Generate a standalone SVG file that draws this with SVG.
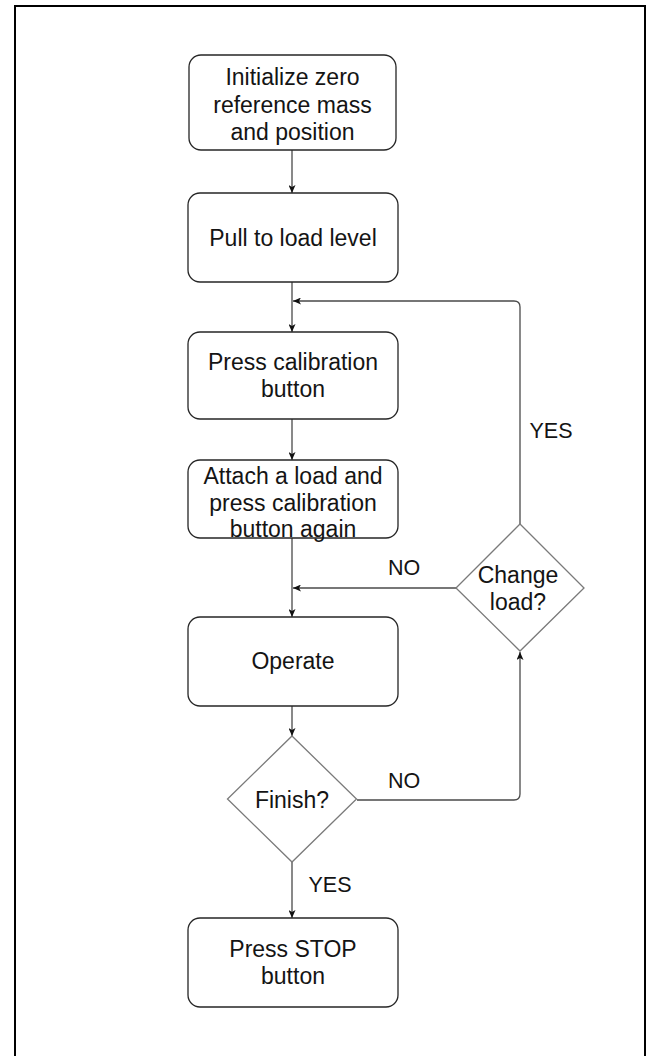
<svg xmlns="http://www.w3.org/2000/svg" width="650" height="1056" viewBox="0 0 650 1056">
<style>
.box{fill:#fff;stroke:#262626;stroke-width:1.3}
.dia{fill:#fff;stroke:#7a7a7a;stroke-width:1.3}
.t{font-family:"Liberation Sans",Arial,sans-serif;font-size:23px;fill:#141414;text-anchor:middle}
.l{font-family:"Liberation Sans",Arial,sans-serif;font-size:21.5px;fill:#141414;text-anchor:middle}
.c{fill:none;stroke:#4a4a4a;stroke-width:1.3}
</style>
<defs>
<marker id="arr" viewBox="0 0 8 7" refX="8" refY="3.5" markerWidth="8" markerHeight="7" markerUnits="userSpaceOnUse" orient="auto">
<path d="M0,0 L8,3.5 L0,7 L2,3.5 z" fill="#111"/>
</marker>
</defs>
<rect x="15" y="6" width="630" height="1060" fill="#fff" stroke="#000" stroke-width="2"/>
<g id="connectors">
<path class="c" d="M292,150 V193" marker-end="url(#arr)"/>
<path class="c" d="M292,282 V332" marker-end="url(#arr)"/>
<path class="c" d="M520,524 V307 Q520,301 514,301 H293" marker-end="url(#arr)"/>
<path class="c" d="M292,419 V460" marker-end="url(#arr)"/>
<path class="c" d="M292,538 V617" marker-end="url(#arr)"/>
<path class="c" d="M456,588 H293" marker-end="url(#arr)"/>
<path class="c" d="M292,706 V736" marker-end="url(#arr)"/>
<path class="c" d="M292,862 V918" marker-end="url(#arr)"/>
<path class="c" d="M357,800 H514 Q520,800 520,794 V652" marker-end="url(#arr)"/>
<text class="l" x="551" y="438">YES</text>
<text class="l" x="404" y="575">NO</text>
<text class="l" x="404" y="788">NO</text>
<text class="l" x="330" y="892">YES</text>
</g>
<g id="init">
<rect class="box" x="189" y="55" width="207" height="95" rx="12"/>
<text class="t" x="292.5" y="84.5">Initialize zero</text>
<text class="t" x="292.5" y="112.5">reference mass</text>
<text class="t" x="292.5" y="139.5">and position</text>
</g>
<g id="pull">
<rect class="box" x="188" y="193" width="210" height="89" rx="12"/>
<text class="t" x="293" y="245.5">Pull to load level</text>
</g>
<g id="press">
<rect class="box" x="188" y="332" width="210" height="87" rx="12"/>
<text class="t" x="293" y="370">Press calibration</text>
<text class="t" x="293" y="397">button</text>
</g>
<g id="attach">
<rect class="box" x="188" y="460" width="210" height="78" rx="12"/>
<text class="t" x="293" y="484">Attach a load and</text>
<text class="t" x="293" y="510.5">press calibration</text>
<text class="t" x="293" y="536.5">button again</text>
</g>
<g id="operate">
<rect class="box" x="188" y="617" width="210" height="89" rx="12"/>
<text class="t" x="293" y="669">Operate</text>
</g>
<g id="finish">
<polygon class="dia" points="292,736 356.5,799 292,862 227.5,799"/>
<text class="t" x="292" y="807.5">Finish?</text>
</g>
<g id="change">
<polygon class="dia" points="520,524 584,588 520,651 456,588"/>
<text class="t" x="518" y="583">Change</text>
<text class="t" x="518" y="609.5">load?</text>
</g>
<g id="stop">
<rect class="box" x="188" y="918" width="210" height="89" rx="12"/>
<text class="t" x="293" y="957">Press STOP</text>
<text class="t" x="293" y="984">button</text>
</g>
</svg>
